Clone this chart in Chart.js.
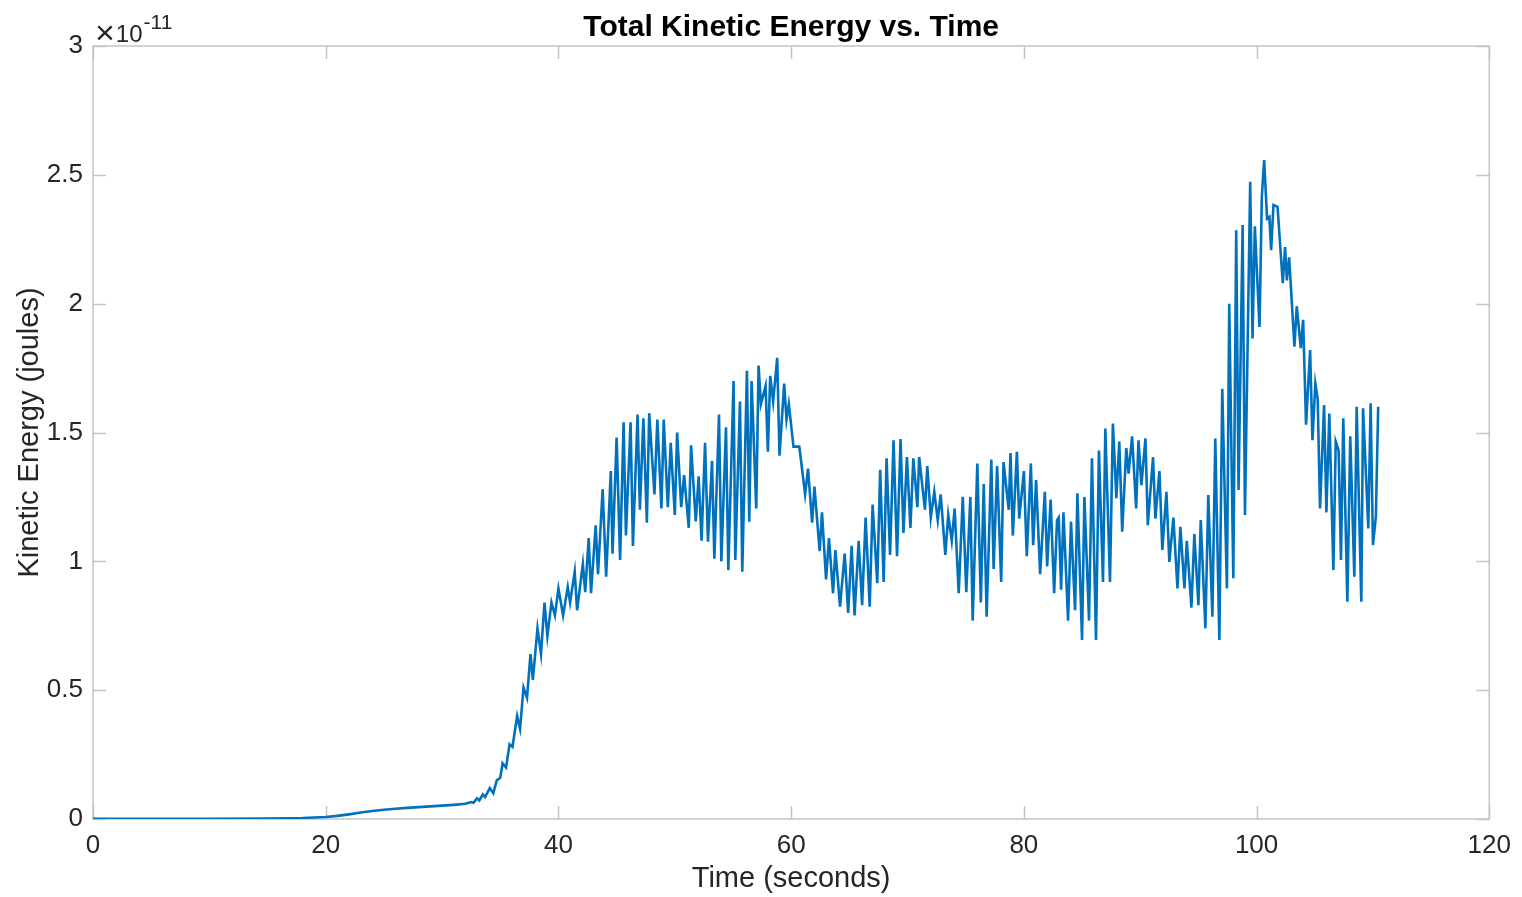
<!DOCTYPE html>
<html>
<head>
<meta charset="utf-8">
<script src="https://cdn.jsdelivr.net/npm/chart.js@4/dist/chart.umd.min.js"></script>
<style>
  html, body { margin: 0; padding: 0; background: #ffffff; }
  #wrap { position: relative; width: 1522px; height: 897px; }
</style>
</head>
<body>
<div id="wrap"><canvas id="c" width="1522" height="897"></canvas></div>
<script>
// ---- Data (time in seconds, kinetic energy in units of 1e-11 J) ----
const timeSeconds = [
  0, 5, 10, 15, 18, 20, 21, 22, 23, 24, 25, 26, 27, 28, 29, 30, 31, 32, 32.5, 32.7,
  33.0, 33.2, 33.5, 33.7, 34.1, 34.4, 34.7, 35.0, 35.2, 35.5, 35.8, 36.05, 36.45, 36.7, 37.0, 37.3,
  37.6, 37.8, 38.2, 38.5, 38.8, 39.05, 39.4, 39.7, 40.0, 40.4, 40.8, 41.0, 41.4, 41.6, 42.1, 42.3,
  42.6, 42.8, 43.2, 43.4, 43.8, 44.1, 44.5, 44.65, 45.0, 45.3, 45.6, 45.8, 46.2, 46.4, 46.8, 47.0,
  47.3, 47.6, 47.8, 48.25, 48.5, 48.85, 49.05, 49.4, 49.65, 50.0, 50.2, 50.55, 50.8, 51.2, 51.4, 51.8,
  52.05, 52.3, 52.6, 52.85, 53.2, 53.4, 53.8, 54.0, 54.4, 54.6, 55.05, 55.2, 55.6, 55.8, 56.2, 56.4,
  56.6, 57.0, 57.2, 57.4, 57.8, 58.0, 58.2, 58.45, 58.8, 59.0, 59.4, 59.6, 59.8, 60.2, 60.7, 61.2,
  61.45, 61.8, 62.0, 62.45, 62.65, 63.0, 63.25, 63.6, 63.8, 64.2, 64.6, 64.9, 65.2, 65.45, 65.8, 66.1,
  66.4, 66.75, 67.0, 67.4, 67.65, 67.95, 68.2, 68.5, 68.8, 69.1, 69.4, 69.65, 69.95, 70.25, 70.5, 70.85,
  71.0, 71.5, 71.7, 72.0, 72.3, 72.6, 72.85, 73.25, 73.5, 73.8, 74.05, 74.4, 74.75, 75.05, 75.4, 75.6,
  76.0, 76.3, 76.55, 76.8, 77.2, 77.4, 77.7, 78.05, 78.25, 78.7, 78.85, 79.05, 79.4, 79.6, 80.0, 80.25,
  80.6, 80.8, 81.05, 81.4, 81.8, 82.0, 82.3, 82.6, 82.85, 83.0, 83.2, 83.4, 83.8, 84.05, 84.4, 84.6,
  85.0, 85.2, 85.6, 85.85, 86.2, 86.45, 86.8, 87.0, 87.4, 87.65, 87.95, 88.2, 88.45, 88.8, 89.0, 89.3,
  89.65, 89.85, 90.1, 90.45, 90.65, 91.1, 91.3, 91.65, 91.9, 92.25, 92.5, 92.85, 93.2, 93.45, 93.8, 94.0,
  94.4, 94.65, 95.0, 95.2, 95.6, 95.85, 96.2, 96.45, 96.8, 97.05, 97.45, 97.65, 98.0, 98.25, 98.45, 98.8,
  99.0, 99.45, 99.65, 99.85, 100.25, 100.45, 100.65, 100.9, 101.1, 101.25, 101.45, 101.8, 102.25, 102.45, 102.6, 102.8,
  103.25, 103.45, 103.8, 104.0, 104.25, 104.6, 104.8, 105.05, 105.25, 105.45, 105.8, 106.0, 106.25, 106.6, 106.8, 107.05,
  107.25, 107.45, 107.8, 108.05, 108.4, 108.6, 109.0, 109.15, 109.6, 109.8, 110.0, 110.25, 110.45
];
const kineticEnergy = [
  0.001, 0.001, 0.001, 0.002, 0.004, 0.008, 0.012, 0.018, 0.025, 0.031, 0.036, 0.040, 0.043, 0.046, 0.049, 0.052, 0.055, 0.059, 0.066, 0.063,
  0.080, 0.072, 0.095, 0.085, 0.120, 0.100, 0.150, 0.160, 0.216, 0.200, 0.290, 0.280, 0.400, 0.350, 0.510, 0.470,
  0.640, 0.540, 0.740, 0.640, 0.840, 0.710, 0.840, 0.790, 0.895, 0.790, 0.900, 0.840, 0.960, 0.810, 0.990, 0.880,
  1.090, 0.876, 1.140, 0.950, 1.280, 0.940, 1.350, 1.030, 1.480, 1.005, 1.540, 1.100, 1.540, 1.060, 1.570, 1.200,
  1.555, 1.150, 1.575, 1.260, 1.550, 1.205, 1.550, 1.210, 1.460, 1.180, 1.500, 1.210, 1.335, 1.130, 1.450, 1.155,
  1.330, 1.080, 1.460, 1.076, 1.390, 1.010, 1.570, 1.000, 1.520, 0.966, 1.700, 1.005, 1.620, 0.960, 1.740, 1.154,
  1.700, 1.205, 1.760, 1.610, 1.680, 1.425, 1.720, 1.620, 1.790, 1.410, 1.690, 1.550, 1.610, 1.445, 1.445, 1.260,
  1.360, 1.150, 1.290, 1.040, 1.190, 0.930, 1.090, 0.876, 1.044, 0.824, 1.030, 0.800, 1.060, 0.790, 1.080, 0.830,
  1.170, 0.824, 1.220, 0.915, 1.355, 0.920, 1.400, 1.025, 1.470, 1.020, 1.475, 1.110, 1.405, 1.130, 1.400, 1.210,
  1.405, 1.200, 1.370, 1.170, 1.270, 1.160, 1.260, 1.025, 1.180, 1.080, 1.205, 0.876, 1.250, 0.880, 1.250, 0.770,
  1.380, 0.840, 1.300, 0.785, 1.395, 0.970, 1.370, 0.920, 1.385, 1.200, 1.420, 1.100, 1.425, 1.166, 1.350, 1.020,
  1.380, 1.063, 1.315, 0.950, 1.270, 0.980, 1.240, 0.876, 1.160, 1.170, 0.890, 1.190, 0.770, 1.154, 0.810, 1.264,
  0.695, 1.250, 0.770, 1.400, 0.695, 1.430, 0.920, 1.515, 0.920, 1.535, 1.245, 1.465, 1.115, 1.440, 1.340, 1.485,
  1.205, 1.470, 1.296, 1.477, 1.140, 1.405, 1.166, 1.350, 1.044, 1.270, 0.998, 1.170, 0.895, 1.134, 0.895, 1.080,
  0.820, 1.106, 0.830, 1.160, 0.740, 1.257, 0.785, 1.477, 0.695, 1.670, 0.895, 2.000, 0.934, 2.285, 1.277, 2.305,
  1.180, 2.473, 1.865, 2.300, 1.910, 2.415, 2.557, 2.330, 2.337, 2.208, 2.383, 2.376, 2.080, 2.220, 2.090, 2.180,
  1.833, 1.990, 1.827, 1.937, 1.530, 1.820, 1.470, 1.690, 1.630, 1.205, 1.607, 1.190, 1.574, 0.966, 1.465, 1.430,
  1.005, 1.555, 0.843, 1.485, 0.940, 1.600, 0.843, 1.594, 1.128, 1.613, 1.063, 1.173, 1.600
];
const xTicks = [0, 20, 40, 60, 80, 100, 120];
const yTicks = [0, 0.5, 1, 1.5, 2, 2.5, 3];
const yExponentTimes = '\u00d7';
const yExponentBase = '10';
const yExponent = '-11';
const chartTitle = 'Total Kinetic Energy vs. Time';
const xTitle = 'Time (seconds)';
const yTitle = 'Kinetic Energy (joules)';

const points = timeSeconds.map((t, i) => ({ x: t, y: kineticEnergy[i] }));

const FONT = '"Liberation Sans", Arial, Helvetica, sans-serif';
const TEXT = '#262626';
const AXIS = '#c4c4c4';

const boxPlugin = {
  id: 'matlabBox',
  beforeDatasetsDraw(chart) {
    const { ctx, chartArea: a, scales: { x, y } } = chart;
    ctx.save();
    ctx.strokeStyle = AXIS;
    ctx.lineWidth = 1.5;
    ctx.strokeRect(a.left, a.top, a.right - a.left, a.bottom - a.top);
    const L = 13;
    ctx.beginPath();
    x.ticks.forEach(t => {
      const px = Math.round(x.getPixelForValue(t.value)) + 0.5;
      ctx.moveTo(px, a.bottom); ctx.lineTo(px, a.bottom - L);
      ctx.moveTo(px, a.top); ctx.lineTo(px, a.top + L);
    });
    y.ticks.forEach(t => {
      const py = Math.round(y.getPixelForValue(t.value)) + 0.5;
      ctx.moveTo(a.left, py); ctx.lineTo(a.left + L, py);
      ctx.moveTo(a.right, py); ctx.lineTo(a.right - L, py);
    });
    ctx.stroke();
    ctx.restore();
  },
  afterDraw(chart) {
    const { ctx, chartArea: a } = chart;
    ctx.save();
    // Title centred over the plot box
    ctx.fillStyle = '#000000';
    ctx.textAlign = 'center';
    ctx.textBaseline = 'middle';
    ctx.font = 'bold 30px ' + FONT;
    ctx.fillText(chartTitle, (a.left + a.right) / 2, 28);
    // Exponent label
    ctx.fillStyle = TEXT;
    ctx.textBaseline = 'alphabetic';
    ctx.textAlign = 'left';
    let xx = a.left + 2;
    ctx.font = '34px ' + FONT;
    ctx.fillText(yExponentTimes, xx, 44);
    xx += ctx.measureText(yExponentTimes).width + 1;
    ctx.font = '24px ' + FONT;
    ctx.fillText(yExponentBase, xx, 42);
    xx += ctx.measureText(yExponentBase).width + 1;
    ctx.font = '21px ' + FONT;
    ctx.fillText(yExponent, xx, 29);
    ctx.restore();
  }
};

new Chart(document.getElementById('c'), {
  type: 'line',
  data: {
    datasets: [{
      data: points,
      borderColor: '#0072BD',
      borderWidth: 2.6,
      pointRadius: 0,
      tension: 0,
      fill: false
    }]
  },
  options: {
    responsive: false,
    animation: false,
    layout: { padding: { left: 0, right: 32, top: 46, bottom: 0 } },
    plugins: {
      legend: { display: false },
      tooltip: { enabled: false },
      title: { display: false }
    },
    scales: {
      x: {
        type: 'linear',
        min: 0, max: 120,
        afterBuildTicks: s => { s.ticks = xTicks.map(v => ({ value: v })); },
        afterFit: s => { s.height = 78; },
        grid: { display: false, drawTicks: false },
        border: { display: false },
        ticks: {
          color: TEXT, padding: 11, maxRotation: 0,
          font: { family: FONT, size: 26 },
          callback: v => String(v)
        },
        title: {
          display: true, text: xTitle, color: TEXT,
          font: { family: FONT, size: 29 },
          padding: { top: 0, bottom: 1 }
        }
      },
      y: {
        type: 'linear',
        min: 0, max: 3,
        afterBuildTicks: s => { s.ticks = yTicks.map(v => ({ value: v })); },
        afterFit: s => { s.width = 93; },
        grid: { display: false, drawTicks: false },
        border: { display: false },
        ticks: {
          color: TEXT, padding: 10,
          font: { family: FONT, size: 26 },
          callback: v => String(v)
        },
        title: {
          display: true, text: yTitle, color: TEXT,
          font: { family: FONT, size: 29 },
          padding: { top: 13, bottom: 0 }
        }
      }
    }
  },
  plugins: [boxPlugin]
});
</script>
</body>
</html>
